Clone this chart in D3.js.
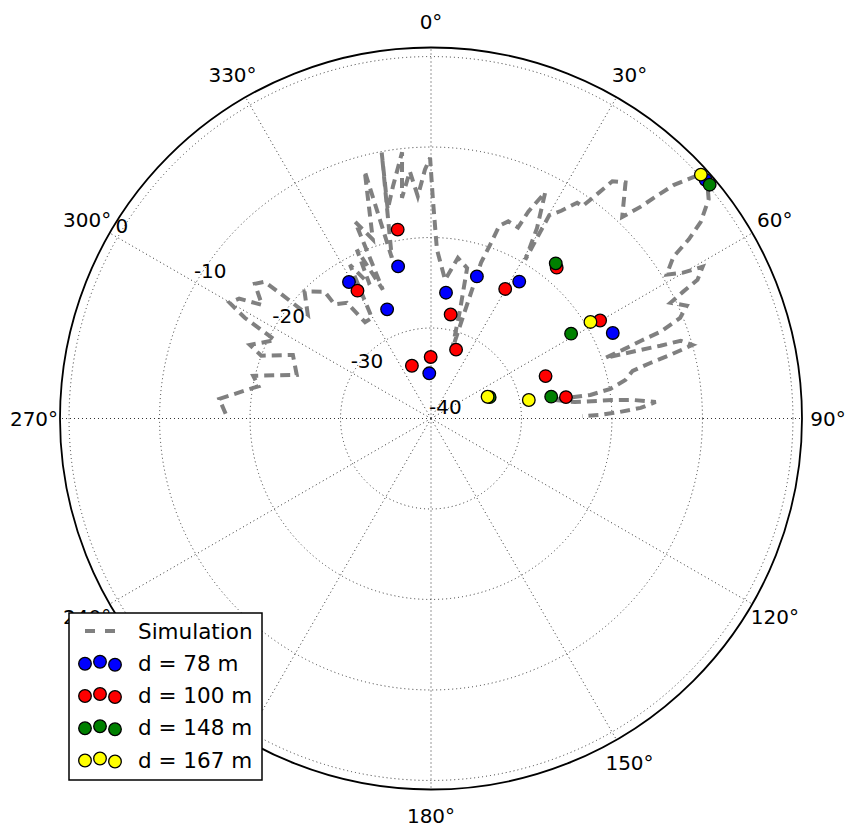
<!DOCTYPE html>
<html>
<head>
<meta charset="utf-8">
<script src="https://cdn.jsdelivr.net/npm/d3@7"></script>
<style>
    body { margin: 0; background: #fff; }
    text { font-family: "DejaVu Sans", sans-serif; fill: #000; }
</style>
</head>
<body>
<div id="chart"></div>
<script>
// ---- data (angles in degrees, clockwise from north; radius in dB) ----
const angleTicks = [0, 30, 60, 90, 120, 150, 180, 210, 240, 270, 300, 330];
const angleLabels = [0, 30, 60, 90, 120, 150, 180, 240, 270, 300, 330]; // 210 sits under the legend
const radialTicks = [-40, -30, -20, -10, 0];
const radialDomain = [-40, 1];

// simulation trace
const simTheta = [271.3, 275.3, 280.6, 283.5, 288.0, 294.7, 290.3, 292.1, 296.7, 298.4,
    299.9, 302.0, 303.9, 307.4, 309.4, 309.7, 310.1, 315.1, 320.0, 319.8,
    324.0, 325.6, 329.6, 332.2, 335.4, 336.3, 339.5, 338.9, 342.0, 345.0,
    346.3, 349.5, 348.3, 350.7, 353.8, 352.5, 355.1, 356.6, 358.6, 359.8,
    360.5, 362.0, 365.8, 369.5, 373.5, 375.0, 377.0, 377.8, 378.8, 379.5,
    381.4, 384.5, 385.2, 386.8, 389.1, 390.7, 390.2, 392.1, 394.1, 395.5,
    396.4, 397.4, 399.5, 403.5, 404.7, 405.4, 406.1, 407.8, 409.8, 411.7,
    413.9, 415.2, 416.3, 418.6, 419.9, 420.8, 422.5, 423.3, 424.2, 426.2,
    428.0, 429.3, 429.7, 430.3, 430.8, 431.9, 432.4, 432.7, 434.3, 435.1,
    435.8, 436.7, 438.8, 440.6, 441.6, 441.3, 443.5, 444.2, 444.7, 445.8,
    447.1, 448.0, 448.8, 449.1];
const simR = [-17.3, -16.5, -20.6, -19.8, -24.4, -23.2, -20.0, -18.4, -20.7, -16.6,
    -14.3, -15.0, -17.5, -15.5, -16.2, -18.3, -22.2, -20.2, -21.7, -23.5,
    -24.2, -27.1, -27.1, -20.8, -23.7, -19.6, -24.8, -16.7, -19.2, -11.7,
    -21.7, -10.1, -16.4, -14.0, -10.4, -15.4, -12.6, -15.4, -12.5, -11.2,
    -15.8, -21.3, -24.6, -22.0, -22.9, -27.6, -32.1, -21.9, -19.7, -17.4,
    -16.6, -16.8, -14.7, -12.0, -15.9, -19.6, -14.0, -12.9, -11.2, -11.2,
    -9.4, -7.0, -6.2, -9.3, -7.1, -5.0, -2.8, 0.2, 0.0, -0.9,
    -3.1, -5.3, -7.8, -9.5, -7.9, -5.6, -6.8, -8.8, -10.6, -9.1,
    -10.3, -12.9, -15.3, -17.5, -19.6, -15.6, -13.4, -11.1, -10.0, -12.6,
    -15.0, -17.1, -18.1, -19.9, -22.2, -26.4, -24.0, -19.9, -17.7, -15.1,
    -16.8, -19.1, -21.3, -23.3];

// measurements
const blueTheta = [329.0, 347.8, 338.1, 6.8, 357.8, 17.9, 32.8, 64.8, 49.0];
const blueR = [-22.4, -22.8, -27.0, -26.0, -35.0, -23.5, -22.0, -17.8, 0.2];
const redTheta = [350.0, 330.1, 10.7, 359.7, 340.1, 20.0, 29.8, 39.8, 59.9, 69.7, 81.0];
const redR = [-18.8, -23.7, -28.3, -33.2, -33.8, -31.9, -23.5, -18.3, -18.4, -26.5, -24.9];
const greenTheta = [38.8, 58.8, 79.7, 50.0, 70.0];
const greenR = [-18.0, -21.9, -26.5, 0.2, -33.1];
const yellowTheta = [47.9, 58.8, 69.0, 79.3];
const yellowR = [0.2, -19.4, -33.3, -29.0];

const seriesLabels = ["d = 78 m", "d = 100 m", "d = 148 m", "d = 167 m"];
const seriesColors = ["#0000ff", "#ff0000", "#008000", "#ffff00"];

// ---- build ----
const width = 846, height = 828;
const cx = 431, cy = 418.5, outerR = 371;

const svg = d3.select("#chart").append("svg")
    .attr("width", width)
    .attr("height", height);

const g = svg.append("g")
    .attr("transform", "translate(" + cx + "," + cy + ")");

const r = d3.scaleLinear().domain(radialDomain).range([0, outerR]);
const rad = d => d * Math.PI / 180;
const px = (t, v) => r(v) * Math.sin(rad(t));
const py = (t, v) => -r(v) * Math.cos(rad(t));

// grid circles
g.selectAll(".rgrid")
    .data(radialTicks.filter(d => d > radialDomain[0]))
    .enter().append("circle")
    .attr("class", "rgrid")
    .attr("r", d => r(d))
    .attr("fill", "none")
    .attr("stroke", "#333")
    .attr("stroke-width", 1)
    .attr("stroke-dasharray", "1,3");

// spokes
g.selectAll(".spoke")
    .data(angleTicks)
    .enter().append("line")
    .attr("class", "spoke")
    .attr("x1", 0).attr("y1", 0)
    .attr("x2", d => outerR * Math.sin(rad(d)))
    .attr("y2", d => -outerR * Math.cos(rad(d)))
    .attr("stroke", "#333")
    .attr("stroke-width", 1)
    .attr("stroke-dasharray", "1,3");

// simulation line
const simData = simTheta.map((t, i) => ({ t: t, v: simR[i] }));
const line = d3.lineRadial()
    .angle(d => rad(d.t))
    .radius(d => r(d.v));

g.append("path")
    .datum(simData)
    .attr("d", line)
    .attr("fill", "none")
    .attr("stroke", "#808080")
    .attr("stroke-width", 4)
    .attr("stroke-dasharray", "10,6");

// outer circle
g.append("circle")
    .attr("r", outerR)
    .attr("fill", "none")
    .attr("stroke", "#000")
    .attr("stroke-width", 1.8);

// measurement markers
const series = [
    { theta: blueTheta, r: blueR },
    { theta: redTheta, r: redR },
    { theta: greenTheta, r: greenR },
    { theta: yellowTheta, r: yellowR }
];
series.forEach((s, k) => {
    const pts = s.theta.map((t, i) => ({ t: t, v: s.r[i] }));
    g.selectAll(".dot" + k)
        .data(pts)
        .enter().append("circle")
        .attr("class", "dot" + k)
        .attr("cx", d => px(d.t, d.v))
        .attr("cy", d => py(d.t, d.v))
        .attr("r", 6.3)
        .attr("fill", seriesColors[k])
        .attr("stroke", "#000")
        .attr("stroke-width", 1.3);
});

// angle labels
g.selectAll(".alabel")
    .data(angleLabels)
    .enter().append("text")
    .attr("class", "alabel")
    .attr("x", d => 397 * Math.sin(rad(d)))
    .attr("y", d => -397 * Math.cos(rad(d)))
    .attr("text-anchor", "middle")
    .attr("dy", "0.36em")
    .attr("font-size", 20)
    .text(d => d + "°");

// radial labels along the 300° spoke
g.selectAll(".rlabel")
    .data(radialTicks)
    .enter().append("text")
    .attr("class", "rlabel")
    .attr("x", d => px(300, d) - 2)
    .attr("y", d => py(300, d) - 5)
    .attr("text-anchor", "start")
    .attr("font-size", 20)
    .text(d => d);

// legend
const legend = svg.append("g").attr("transform", "translate(69,613)");
legend.append("rect")
    .attr("width", 193)
    .attr("height", 167)
    .attr("fill", "#fff")
    .attr("stroke", "#000")
    .attr("stroke-width", 1.5);

const rowY = d3.scaleLinear().domain([0, 4]).range([18, 147]);

legend.append("line")
    .attr("x1", 16).attr("x2", 46)
    .attr("y1", rowY(0)).attr("y2", rowY(0))
    .attr("stroke", "#808080")
    .attr("stroke-width", 4)
    .attr("stroke-dasharray", "10,10");
legend.append("text")
    .attr("x", 69).attr("y", rowY(0))
    .attr("dy", "0.36em")
    .attr("font-size", 21.5)
    .text("Simulation");

const markerOffsets = [[16, 0.5], [31, -1.5], [46, 1.5]];
seriesLabels.forEach((lab, k) => {
    const y = rowY(k + 1);
    markerOffsets.forEach(o => {
        legend.append("circle")
            .attr("cx", o[0]).attr("cy", y + o[1])
            .attr("r", 6.3)
            .attr("fill", seriesColors[k])
            .attr("stroke", "#000")
            .attr("stroke-width", 1.3);
    });
    legend.append("text")
        .attr("x", 69).attr("y", y)
        .attr("dy", "0.36em")
        .attr("font-size", 21.5)
        .text(lab);
});
</script>
</body>
</html>
